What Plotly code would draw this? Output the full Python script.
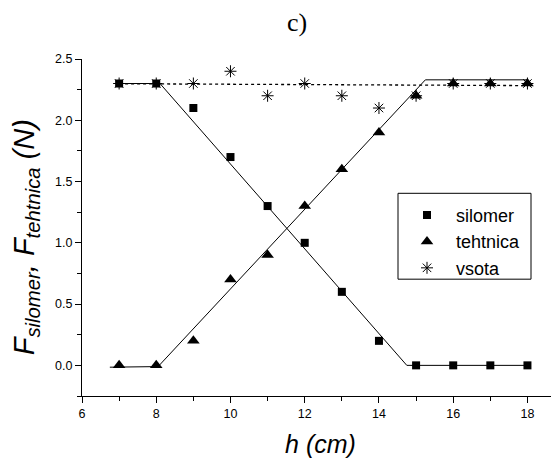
import plotly.graph_objects as go

h = [7, 8, 9, 10, 11, 12, 13, 14, 15, 16, 17, 18]
silomer = [2.3, 2.3, 2.1, 1.7, 1.3, 1.0, 0.6, 0.2, 0.0, 0.0, 0.0, 0.0]
tehtnica = [0.0, 0.0, 0.2, 0.7, 0.9, 1.3, 1.6, 1.9, 2.2, 2.3, 2.3, 2.3]
vsota = [2.3, 2.3, 2.3, 2.4, 2.2, 2.3, 2.2, 2.1, 2.2, 2.3, 2.3, 2.3]

# piecewise fit lines (break points)
fit_silomer_x = [7.0, 8.1, 14.75, 18.0]
fit_silomer_y = [2.3, 2.3, 0.0, 0.0]
fit_tehtnica_x = [6.75, 8.05, 15.25, 18.0]
fit_tehtnica_y = [-0.015, -0.01, 2.33, 2.33]
fit_vsota_x = [7.0, 18.0]
fit_vsota_y = [2.298, 2.283]

FONT = "Arial, Liberation Sans, sans-serif"

# page body has an 8px margin, so figure coords are offset by 8 px
L, R, T, B = 74, 8, 50.5, 72
PW = 559 - L - R
PH = 460 - T - B

fig = go.Figure()
fig.add_trace(go.Scatter(x=fit_silomer_x, y=fit_silomer_y, mode="lines",
                         line=dict(color="black", width=1), showlegend=False, hoverinfo="skip"))
fig.add_trace(go.Scatter(x=fit_tehtnica_x, y=fit_tehtnica_y, mode="lines",
                         line=dict(color="black", width=1), showlegend=False, hoverinfo="skip"))
fig.add_trace(go.Scatter(x=fit_vsota_x, y=fit_vsota_y, mode="lines",
                         line=dict(color="black", width=1.3, dash="dot"), showlegend=False, hoverinfo="skip"))

fig.add_trace(go.Scatter(x=h, y=silomer, mode="markers", name="silomer",
                         marker=dict(symbol="square", size=8, color="black")))
fig.add_trace(go.Scatter(x=h, y=tehtnica, mode="markers", name="tehtnica",
                         marker=dict(symbol="triangle-up", size=11, color="black")))
fig.add_trace(go.Scatter(x=h, y=vsota, mode="markers", name="vsota",
                         marker=dict(symbol="asterisk-open", size=10, color="black",
                                     line=dict(color="black", width=1))))

fig.update_layout(
    width=559, height=460,
    margin=dict(l=L, r=R, t=T, b=B, autoexpand=False),
    paper_bgcolor="white", plot_bgcolor="white",
    font=dict(family=FONT, color="black", size=12),
    title=dict(text="c)", x=0.517, xanchor="center", y=0.9696, yanchor="middle",
               yref="container", xref="container",
               font=dict(family="Times New Roman, Liberation Serif, serif", size=26, color="black")),
    legend=dict(x=(398 - 82) / PW, y=0.591, xanchor="left", yanchor="top",
                borderwidth=0, bgcolor="rgba(0,0,0,0)",
                font=dict(size=18, family=FONT), itemwidth=48,
                tracegroupgap=0),
    xaxis=dict(range=[6, 18.85], dtick=2, tick0=6, showline=True, linecolor="black", linewidth=1,
               ticks="outside", ticklen=6, tickcolor="black", showgrid=False, zeroline=False,
               tickfont=dict(size=12.5), automargin=False,
               minor=dict(dtick=1, ticks="outside", ticklen=4, tickcolor="black", showgrid=False),
               title=dict(text="<i>h (cm)</i>", font=dict(size=25, family=FONT), standoff=15)),
    yaxis=dict(range=[-0.25, 2.5], dtick=0.5, tick0=0, tickformat=".1f", showline=True,
               linecolor="black", linewidth=1, ticks="outside", ticklen=6, tickcolor="black",
               showgrid=False, zeroline=False, tickfont=dict(size=12.5), automargin=False,
               minor=dict(dtick=0.25, ticks="outside", ticklen=4, tickcolor="black", showgrid=False)),
)

# legend frame
fig.add_shape(type="rect", xref="paper", yref="paper",
              x0=(398 - 82) / PW, x1=(531 - 82) / PW,
              y0=(396 - 279) / PH, y1=(396 - 193) / PH,
              line=dict(color="black", width=1), fillcolor="rgba(0,0,0,0)", layer="above")

fig.add_annotation(text="<i>F<sub>silomer</sub>, F<sub>tehtnica</sub> (N)</i>",
                   xref="paper", yref="paper", x=-0.118, y=0.47, xanchor="center", yanchor="middle",
                   textangle=-90, showarrow=False, font=dict(size=29, family=FONT, color="black"))

fig.write_html("out.html")
